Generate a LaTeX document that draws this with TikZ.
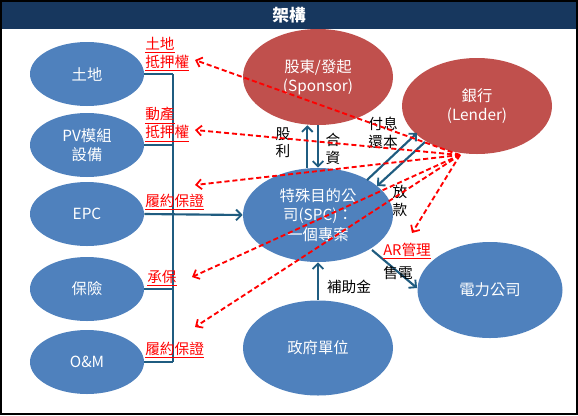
\documentclass[tikz,border=0pt]{standalone}
\usepackage{fontspec}
\setmainfont{Noto Sans CJK TC}
\usetikzlibrary{shapes.geometric,arrows.meta}
\definecolor{bluefill}{HTML}{4F81BD}
\definecolor{redfill}{HTML}{C0504D}
\definecolor{navy}{HTML}{17375E}
\definecolor{arrowblue}{HTML}{1F5C80}
\begin{document}
\begin{tikzpicture}[x=0.75pt,y=-0.75pt,
  ell/.style={ellipse,inner sep=0pt,text=white,font=\fontsize{11.5}{14.5}\selectfont,align=center},
  blueell/.style={ell,fill=bluefill},
  redell/.style={ell,fill=redfill},
  smallell/.style={blueell,minimum width=85.5pt,minimum height=48pt},
  bigell/.style={minimum width=112.5pt,minimum height=72pt},
  flow/.style={draw=arrowblue,line width=1.6pt,-{Straight Barb[length=4pt,width=8pt,line width=1.4pt]}},
  link/.style={draw=arrowblue,line width=1.6pt},
  claim/.style={draw=red,line width=1.4pt,dash pattern=on 3.8pt off 2.2pt,-{Straight Barb[length=4pt,width=7.5pt,line width=1.3pt]}},
  redlbl/.style={text=red,font=\fontsize{11}{13.5}\selectfont,inner sep=0pt,align=left},
  lbl/.style={text=black,font=\fontsize{11}{13}\selectfont,inner sep=0pt,align=center}
]
\useasboundingbox (0,0) rectangle (578,415);
\fill[white] (0,0) rectangle (578,415);
% title bar
\fill[navy] (2,2) rectangle (576,29);
\node[text=white,font=\fontsize{12.5}{14}\selectfont\bfseries] (title) at (289,15.5) {架構};
\draw[black,line width=1.5pt] (1,1) rectangle (577,414);

% left ellipses
\node[smallell] (land) at (87,74) {土地};
\node[smallell] (pv) at (87,145) {PV模組\\設備};
\node[smallell] (epc) at (87,214) {EPC};
\node[smallell] (ins) at (87,289) {保險};
\node[smallell] (om) at (87,362) {O\&M};

% main ellipses
\node[redell,bigell] (spon) at (318,77) {股東/發起\\(Sponsor)};
\node[redell,bigell] (bank) at (477,106) {銀行\\(Lender)};
\node[blueell,bigell,minimum height=70.5pt] (spc) at (318,215) {特殊目的公\\司(SPC)：\\一個專案};
\node[blueell,minimum width=108.75pt,minimum height=72pt] (power) at (490,290) {電力公司};
\node[blueell,bigell,minimum height=71.25pt] (gov) at (318,348) {政府單位};

% bus on the left
\coordinate (bx) at (173,0);
\draw[link] (land.east) -- (land.east -| bx);
\draw[link] (pv.east) -- (pv.east -| bx);
\draw[link] (ins.east) -- (ins.east -| bx);
\draw[link] (om.east) -- (om.east -| bx);
\draw[link] (land.east -| bx) -- (om.east -| bx);
\draw[flow] (epc.east) -- (spc.west);

% sponsor <-> spc
\draw[flow] ([xshift=-8pt]spc.north) -- ([xshift=-8pt]spon.south);
\draw[flow] (spon.south) -- (spc.north);
% spc <-> bank
\coordinate (s1) at (367,180);
\coordinate (b1) at (417,133);
\coordinate (b2) at (425,142);
\coordinate (s2) at (377,186);
\draw[flow] (s1) -- (b1);
\draw[flow] (b2) -- (s2);
% spc -> power
\coordinate (s3) at (372,250);
\coordinate (p1) at (417,288);
\draw[flow] (s3) -- (p1);
% gov -> spc
\draw[flow] (gov.north) -- (spc.south);

% black labels
\node[lbl] (div) at (283,143) {股\\利};
\node[lbl] (inv) at (333,149) {合\\資};
\node[lbl] (repay) at (383,133) {付息\\還本};
\node[lbl] (loan) at (400,201) {放\\款};
\node[lbl] (sell) at (398,273) {售電};
\node[lbl] (sub) at (349,287) {補助金};

% red labels
\node[redlbl,anchor=west] (r1) at (145,54) {\underline{土地}\\\underline{抵押權}};
\node[redlbl,anchor=west] (r2) at (145,124.5) {\underline{動產}\\\underline{抵押權}};
\node[redlbl,anchor=west] (r3) at (145,202) {\underline{履約保證}};
\node[redlbl,anchor=west] (r4) at (147,278) {\underline{承保}};
\node[redlbl,anchor=west] (r5) at (145,350) {\underline{履約保證}};
\node[redlbl,anchor=west] (r6) at (383,251) {\underline{AR管理}};

% red dashed claims from bank
\coordinate (o) at (460,155);
\coordinate (t1) at (195,60);
\coordinate (t2) at (195,130);
\coordinate (t3) at (195,185);
\coordinate (t4) at (192,277);
\coordinate (t5) at (195,327);
\coordinate (t6) at (412,233);
\draw[claim] (o) -- (t1);
\draw[claim] (o) -- (t2);
\draw[claim] (o) -- (t3);
\draw[claim] (o) -- (t4);
\draw[claim] (o) -- (t5);
\draw[claim] (o) -- (t6);
\end{tikzpicture}
\end{document}
